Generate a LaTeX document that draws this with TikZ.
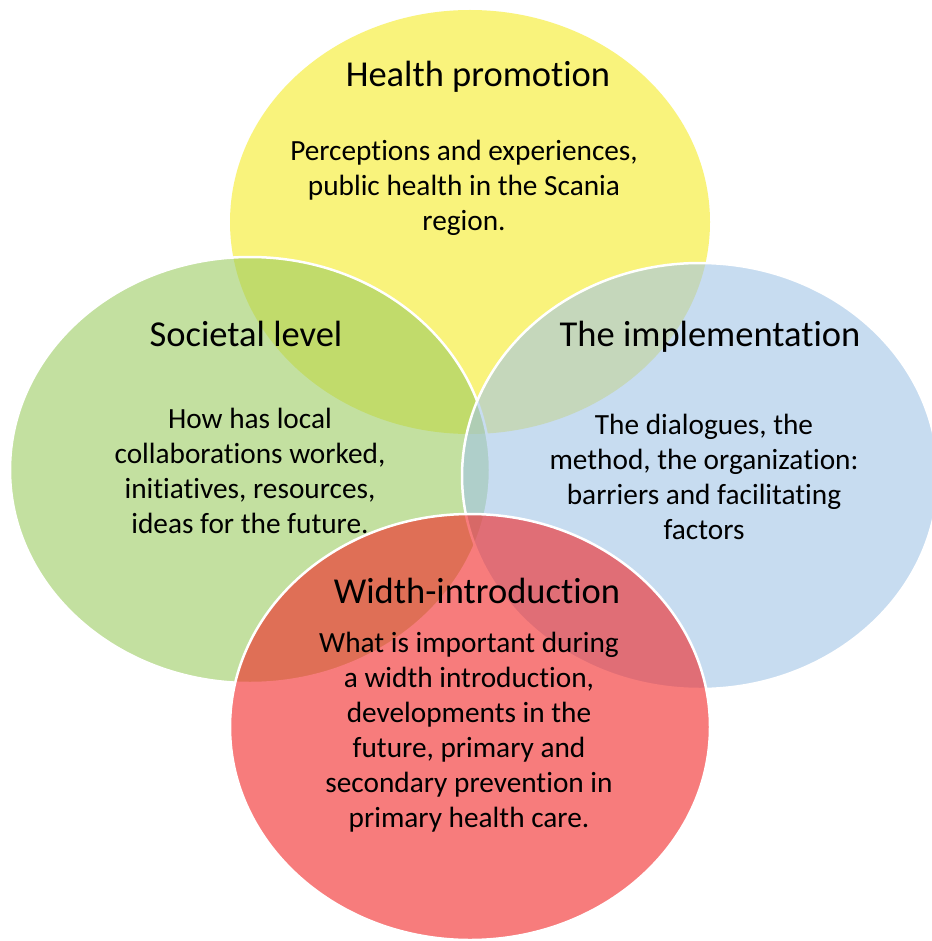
\documentclass[tikz,border=0pt]{standalone}
\usepackage{fontspec}
\setmainfont{Carlito}[Ligatures=NoCommon]
\definecolor{hpYellow}{RGB}{249,243,124}
\definecolor{slGreen}{RGB}{156,204,97}
\definecolor{imBlue}{RGB}{163,197,230}
\definecolor{wiRed}{RGB}{242,37,37}
\begin{document}
\begin{tikzpicture}[x=1pt,y=-1pt,
  bubble/.style={draw=white,line width=2.5pt,fill opacity=0.6},
  heading/.style={anchor=base,inner sep=0pt,font=\fontsize{36.5}{44}\selectfont},
  bodytext/.style={anchor=base,inner sep=0pt,align=center,font=\fontsize{29.3}{35}\selectfont}]
  \useasboundingbox[fill=white] (0,0) rectangle (931,941);
  % four overlapping circles of the study themes
  \fill[hpYellow] (470,222) ellipse [x radius=240,y radius=212];
  \path[bubble,fill=slGreen] (250,470) ellipse [x radius=240,y radius=213];
  \path[bubble,fill=imBlue] (700,476) ellipse [x radius=238,y radius=213];
  \path[bubble,fill=wiRed] (470,727) ellipse [x radius=240,y radius=213];
  % headings
  \node[heading] (hp) at (478,87) {Health promotion};
  \node[heading] (sl) at (246,346) {Societal level};
  \node[heading] (im) at (710,346) {The implementation};
  \node[heading] (wi) at (477,603) {Width-introduction};
  % descriptions (anchored on the baseline of their last line)
  \node[bodytext] (hpt) at (464,230) {Perceptions and experiences,\\public health in the Scania\\region.};
  \node[bodytext] (slt) at (250,533) {How has local\\collaborations worked,\\initiatives, resources,\\ideas for the future.};
  \node[bodytext] (imt) at (704,539) {The dialogues, the\\method, the organization:\\barriers and facilitating\\factors};
  \node[bodytext] (wit) at (469,827) {What is important during\\a width introduction,\\developments in the\\future, primary and\\secondary prevention in\\primary health care.};
\end{tikzpicture}
\end{document}
